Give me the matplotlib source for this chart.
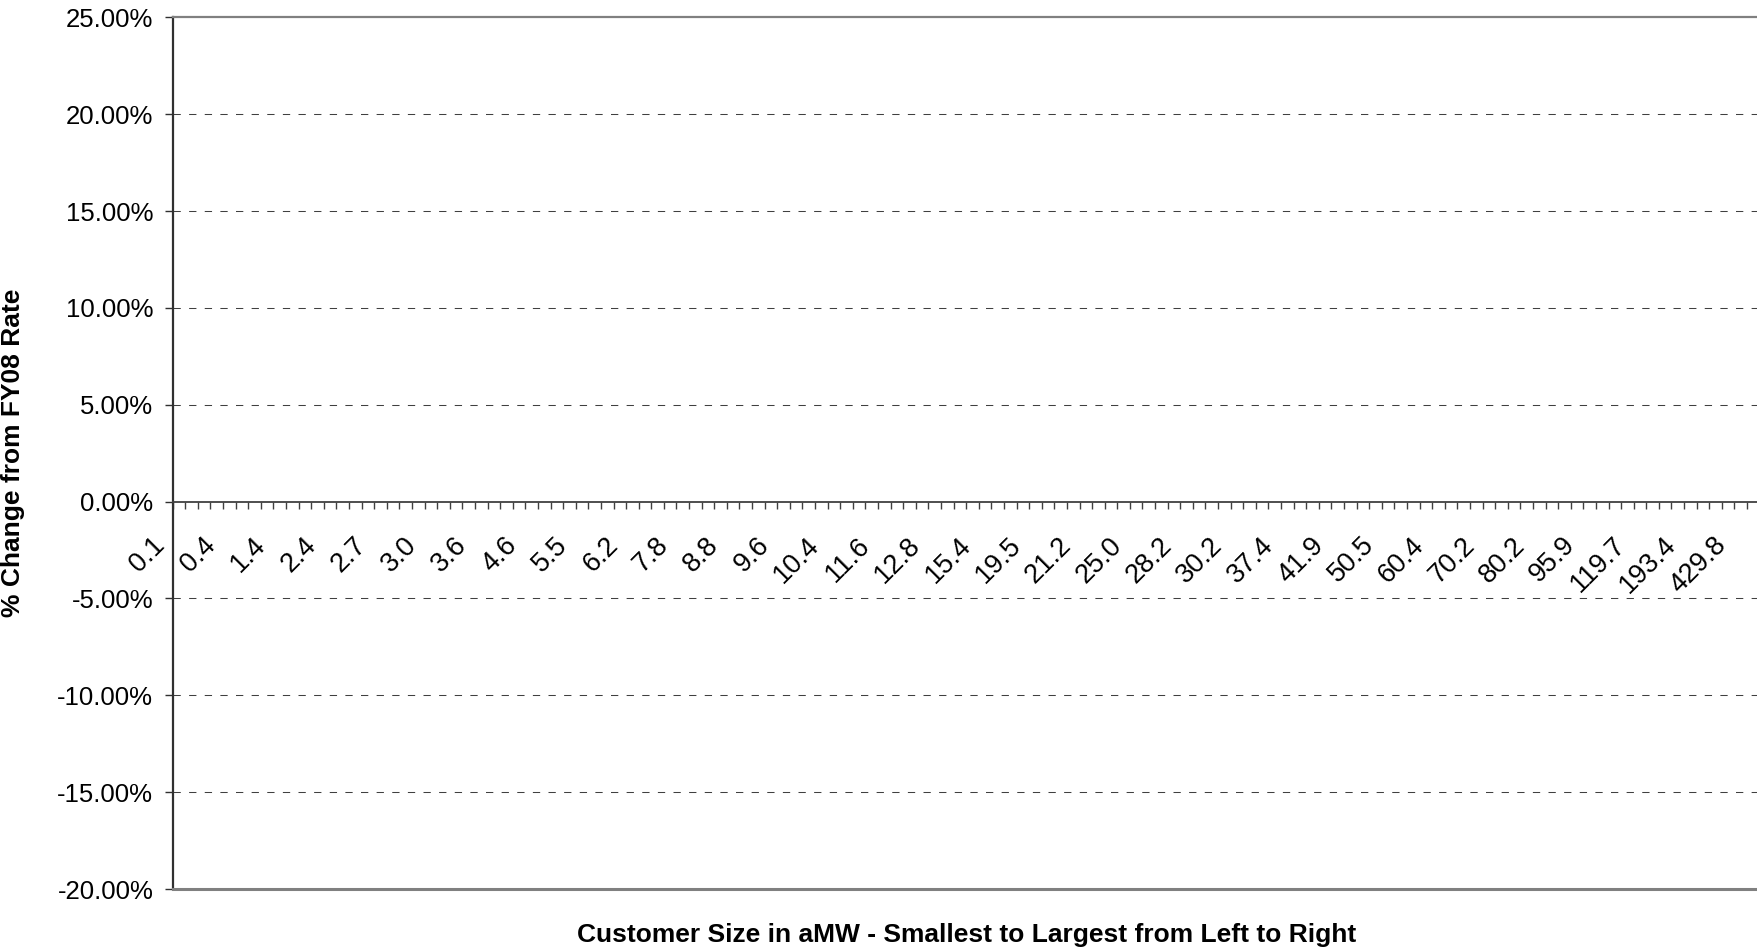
import matplotlib
matplotlib.use("Agg")
import matplotlib.pyplot as plt
from matplotlib.transforms import ScaledTranslation

plt.rcParams['font.family'] = ['Liberation Sans', 'DejaVu Sans']

# customer size (aMW) labels, shown on every 4th category
size_labels = ["0.1", "0.4", "1.4", "2.4", "2.7", "3.0", "3.6", "4.6", "5.5", "6.2",
               "7.8", "8.8", "9.6", "10.4", "11.6", "12.8", "15.4", "19.5", "21.2", "25.0",
               "28.2", "30.2", "37.4", "41.9", "50.5", "60.4", "70.2", "80.2", "95.9", "119.7",
               "193.4", "429.8"]
n_customers = 126
label_step = 4

# y axis: % change from FY08 rate
y_ticks = [-20, -15, -10, -5, 0, 5, 10, 15, 20, 25]
y_min, y_max = -20, 25

fig = plt.figure(figsize=(17.57, 9.5), dpi=100)
ax = fig.add_axes([0.0983, 0.0642, 0.9032, 0.9176])

ax.set_xlim(-0.5, n_customers - 0.5)
ax.set_ylim(y_min, y_max)

# gridlines (not on the frame or the zero axis)
for y in y_ticks:
    if y not in (y_min, y_max, 0):
        ax.axhline(y, color="#404040", lw=0.75, linestyle=(0, (7, 8)), zorder=1)

# frame
for s in ("top", "left", "bottom", "right"):
    ax.spines[s].set_linewidth(1.6)
ax.spines["top"].set_color("#808080")
ax.spines["right"].set_visible(False)
ax.spines["left"].set_color("#303030")
ax.spines["bottom"].set_position(("data", 0))
ax.spines["bottom"].set_color("#404040")
ax.spines["bottom"].set_linewidth(1.3)
ax.axhline(y_min, color="#808080", lw=2.2, zorder=3, clip_on=False)

# y axis
ax.set_yticks(y_ticks)
ax.set_yticklabels(["%.2f%%" % v for v in y_ticks])
ax.tick_params(axis="y", direction="out", length=6, width=1, color="#303030",
               labelsize=18.5, pad=8)

# x axis: category boundaries as ticks, labels at every 4th category centre
ax.set_xticks([i - 0.5 for i in range(n_customers + 1)], minor=True)
ax.set_xticks(list(range(0, n_customers, label_step))[:len(size_labels)])
ax.set_xticklabels(size_labels, rotation=45, ha="right", va="top")
ax.tick_params(axis="x", which="major", length=0, labelsize=19.5, pad=22)
ax.tick_params(axis="x", which="minor", direction="out", length=5.2, width=1, color="#404040")
shift = ScaledTranslation(-0.09, 0, fig.dpi_scale_trans)
for lab in ax.get_xticklabels():
    lab.set_transform(lab.get_transform() + shift)

ax.set_ylabel("% Change from FY08 Rate", fontsize=19, fontweight="bold")
ax.yaxis.set_label_coords(-0.0931, 0.5)
ax.set_xlabel("Customer Size in aMW - Smallest to Largest from Left to Right",
              fontsize=19, fontweight="bold", va="center")
ax.xaxis.set_label_coords(0.5, -0.053)

fig.savefig("out.png", dpi=100)
